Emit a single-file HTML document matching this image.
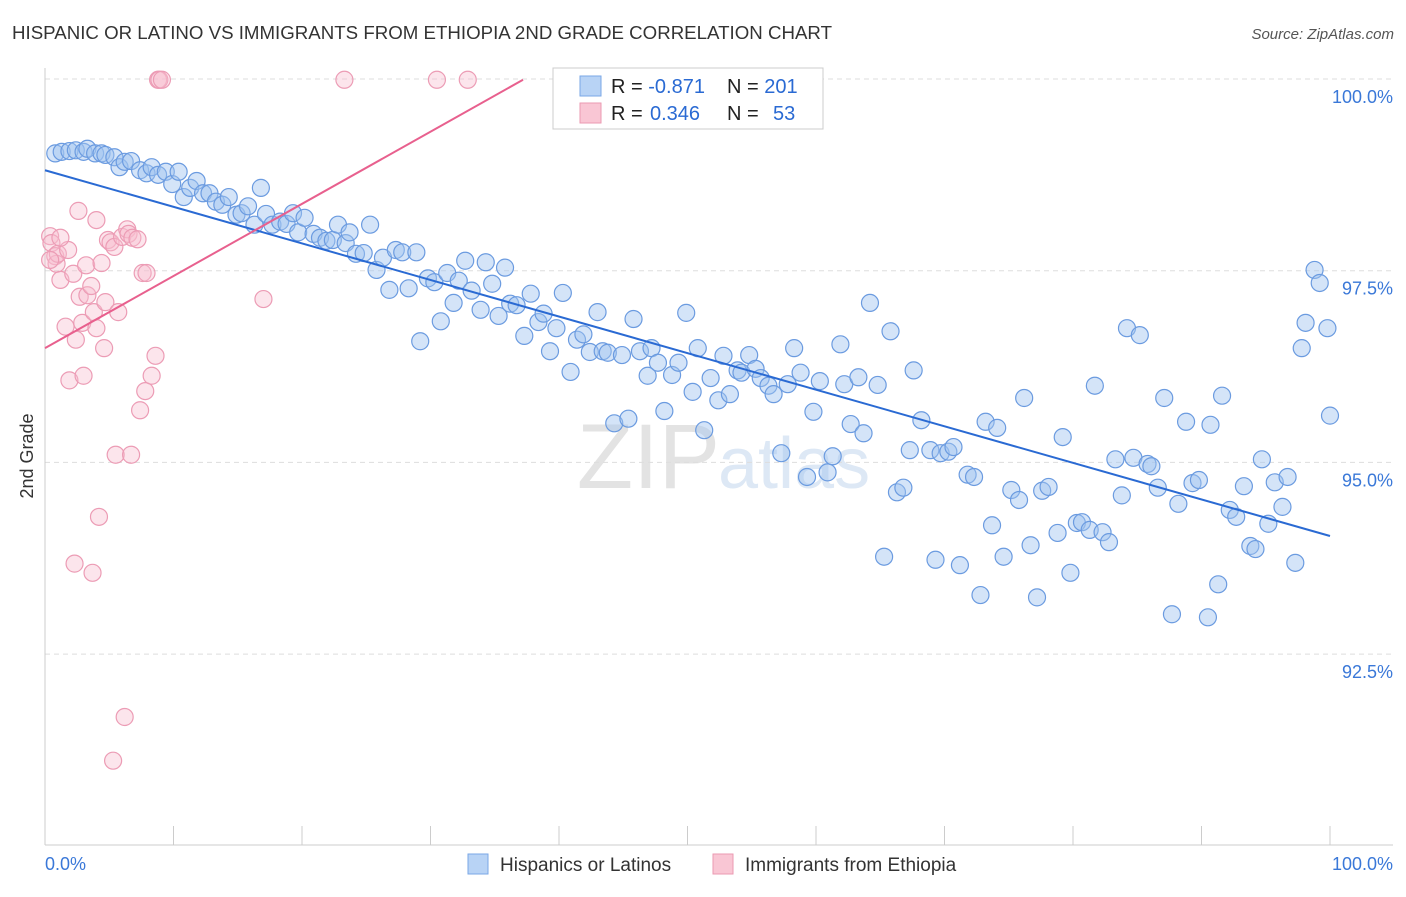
<!DOCTYPE html>
<html><head><meta charset="utf-8">
<style>
body{margin:0;background:#fff;font-family:"Liberation Sans",sans-serif;}
svg text{font-family:"Liberation Sans",sans-serif;}
</style></head>
<body>
<svg id="chart" width="1406" height="892">
<text x="12" y="39" font-size="18" fill="#333" textLength="820" lengthAdjust="spacingAndGlyphs">HISPANIC OR LATINO VS IMMIGRANTS FROM ETHIOPIA 2ND GRADE CORRELATION CHART</text>
<text x="1394" y="39" font-size="15" fill="#555" text-anchor="end" font-style="italic">Source: ZipAtlas.com</text>
<text x="720" y="488" font-size="92" fill="#e3e3e3" text-anchor="end" font-family="Liberation Serif">ZIP</text>
<text x="718" y="488" font-size="72" fill="#dde8f5">atlas</text>
<g id="grid"></g>
<g id="axes"></g>
<g id="marks"></g>
<text transform="translate(33,456) rotate(-90)" font-size="18" fill="#333" text-anchor="middle">2nd Grade</text>
<g>
<rect x="553" y="68" width="270" height="61" fill="#fff" stroke="#ccc"/>
<rect x="580" y="76" width="21" height="20" fill="#b8d3f5" stroke="#7aa7e6"/>
<rect x="580" y="103" width="21" height="20" fill="#f9c6d4" stroke="#eb9ab2"/>
<text x="611" y="93" font-size="20" fill="#222">R = <tspan fill="#2a6ad3">-0.871</tspan><tspan x="727">N = </tspan><tspan fill="#2a6ad3">201</tspan></text>
<text x="611" y="120" font-size="20" fill="#222">R = <tspan x="650" fill="#2a6ad3">0.346</tspan><tspan x="727">N = </tspan><tspan x="773" fill="#2a6ad3">53</tspan></text>
</g>
<g>
<rect x="468" y="854" width="20" height="20" fill="#b8d3f5" stroke="#7aa7e6"/>
<text x="500" y="871" font-size="19" fill="#333">Hispanics or Latinos</text>
<rect x="713" y="854" width="20" height="20" fill="#f9c6d4" stroke="#eb9ab2"/>
<text x="745" y="871" font-size="19" fill="#333">Immigrants from Ethiopia</text>
</g>
</svg>
<script>
const blueX=[0.8,1.3,1.9,2.4,3.0,3.3,3.9,4.4,4.7,5.4,5.8,6.2,6.7,7.4,7.9,8.3,8.8,9.4,9.9,10.4,10.8,11.3,11.8,12.3,12.8,13.3,13.8,14.3,14.9,15.3,15.8,16.3,16.8,17.2,17.7,18.3,18.8,19.3,19.7,20.2,20.9,21.4,21.9,22.4,22.8,23.4,23.7,24.2,24.8,25.3,25.8,26.3,26.8,27.3,27.8,28.3,28.9,29.2,29.8,30.3,30.8,31.3,31.8,32.2,32.7,33.2,33.9,34.3,34.8,35.3,35.8,36.2,36.7,37.3,37.8,38.4,38.8,39.3,39.8,40.3,40.9,41.4,41.9,42.4,43.0,43.4,43.8,44.3,44.9,45.4,45.8,46.3,46.9,47.2,47.7,48.2,48.8,49.3,49.9,50.4,50.8,51.3,51.8,52.4,52.8,53.3,53.9,54.2,54.8,55.3,55.7,56.3,56.7,57.3,57.8,58.3,58.8,59.3,59.8,60.3,60.9,61.3,61.9,62.2,62.7,63.3,63.7,64.2,64.8,65.3,65.8,66.3,66.8,67.3,67.6,68.2,68.9,69.3,69.7,70.3,70.7,71.2,71.8,72.3,72.8,73.2,73.7,74.1,74.6,75.2,75.8,76.2,76.7,77.2,77.6,78.1,78.8,79.2,79.8,80.3,80.7,81.3,81.7,82.3,82.8,83.3,83.8,84.2,84.7,85.2,85.8,86.1,86.6,87.1,87.7,88.2,88.8,89.3,89.8,90.5,90.7,91.3,91.6,92.2,92.7,93.3,93.8,94.2,94.7,95.2,95.7,96.3,96.7,97.3,97.8,98.1,98.8,99.2,99.8,100];
const blueY=[99.03,99.05,99.06,99.07,99.05,99.09,99.03,99.03,99.01,98.98,98.85,98.92,98.93,98.81,98.77,98.85,98.75,98.79,98.63,98.79,98.46,98.58,98.67,98.51,98.51,98.40,98.36,98.46,98.23,98.25,98.34,98.10,98.58,98.24,98.10,98.14,98.11,98.25,98.00,98.19,97.98,97.93,97.89,97.90,98.10,97.86,98.00,97.72,97.73,98.10,97.51,97.67,97.25,97.77,97.74,97.27,97.74,96.58,97.40,97.35,96.84,97.47,97.08,97.37,97.63,97.24,96.99,97.61,97.33,96.91,97.54,97.07,97.05,96.65,97.20,96.83,96.94,96.45,96.75,97.21,96.18,96.60,96.67,96.44,96.96,96.45,96.43,95.51,96.40,95.57,96.87,96.45,96.13,96.49,96.30,95.67,96.14,96.30,96.95,95.92,96.49,95.42,96.10,95.81,96.39,95.89,96.20,96.17,96.40,96.22,96.10,96.00,95.89,95.12,96.02,96.49,96.17,94.81,95.66,96.06,94.87,95.08,96.54,96.02,95.50,96.11,95.38,97.08,96.01,93.77,96.71,94.61,94.67,95.16,96.20,95.55,95.16,93.73,95.12,95.14,95.20,93.66,94.84,94.81,93.27,95.53,94.18,95.45,93.77,94.64,94.51,95.84,93.92,93.24,94.63,94.68,94.08,95.33,93.56,94.21,94.22,94.12,96.00,94.09,93.96,95.04,94.57,96.75,95.06,96.66,94.98,94.95,94.67,95.84,93.02,94.46,95.53,94.73,94.77,92.98,95.49,93.41,95.87,94.38,94.29,94.69,93.91,93.87,95.04,94.20,94.74,94.42,94.81,93.69,96.49,96.82,97.51,97.34,96.75,95.61];
const pinkX=[0.4,0.5,0.8,0.9,1.0,1.2,1.6,1.8,1.9,2.2,2.4,2.6,2.7,2.9,3.0,3.2,3.3,3.6,3.8,4.0,4.0,4.2,4.4,4.6,4.7,4.9,5.1,5.4,5.5,5.7,6.0,6.2,6.4,6.5,6.8,7.2,7.4,7.6,7.8,7.9,8.3,8.6,8.8,8.9,9.1,17.0,23.3,30.5,32.9,2.3,3.7,5.3,6.7,0.4,1.2];
const pinkY=[97.95,97.86,97.69,97.59,97.72,97.38,96.77,97.77,96.07,97.46,96.60,98.28,97.16,96.82,96.13,97.57,97.18,97.30,96.96,98.16,96.75,94.29,97.60,96.49,97.09,97.90,97.87,97.81,95.10,96.96,97.94,91.68,98.04,97.98,97.93,97.91,95.68,97.47,95.93,97.47,96.13,96.39,99.99,99.99,99.99,97.13,99.99,99.99,99.99,93.68,93.56,91.11,95.10,97.64,97.93];
const yTicks=[100,97.5,95,92.5];
const yTickLabels=["100.0%","97.5%","95.0%","92.5%"];
const xTickVals=[0,10,20,30,40,50,60,70,80,90,100];
const blueTrend=[98.81,94.04];
const pinkTrend=[96.49,99.99];
const pinkTrendEnd=37.2;

const NS="http://www.w3.org/2000/svg";
const sx=v=>45+v*12.85;
const sy=v=>79+(100-v)*76.68;
function mk(parent,tag,attrs){const e=document.createElementNS(NS,tag);for(const k in attrs)e.setAttribute(k,attrs[k]);document.getElementById(parent).appendChild(e);return e;}

yTicks.forEach((t,i)=>{
  const l=mk('grid','line',{x1:45,x2:1393,y1:sy(t),y2:sy(t),stroke:'#ddd','stroke-dasharray':'5,4'});
  
  
  const tx=mk('grid','text',{x:1393,y:sy(t)+24,'text-anchor':'end','font-size':18,fill:'#3a78d8'});
  tx.textContent=yTickLabels[i];
  
  
});
const ax=mk('axes','line',{x1:45,x2:1393,y1:845,y2:845,stroke:'#ccc'});


const ay=mk('axes','line',{x1:45,x2:45,y1:68,y2:845,stroke:'#ccc'});


xTickVals.forEach(t=>{
  const l=mk('axes','line',{x1:sx(t),x2:sx(t),y1:826,y2:845,stroke:'#ccc'});
  
  
});
const xl0=mk('axes','text',{x:45,y:870,'font-size':18,fill:'#3a78d8'});xl0.textContent='0.0%';


const xl1=mk('axes','text',{x:1393,y:870,'font-size':18,fill:'#3a78d8','text-anchor':'end'});xl1.textContent='100.0%';



blueX.forEach((x,i)=>{
  const c=mk('marks','circle',{cx:sx(x),cy:sy(blueY[i]),r:8.5,fill:'rgba(160,196,240,0.45)',stroke:'#6b9be0','stroke-width':1.2});
  
  
});
pinkX.forEach((x,i)=>{
  const c=mk('marks','circle',{cx:sx(x),cy:sy(pinkY[i]),r:8.5,fill:'rgba(248,190,208,0.4)',stroke:'#ec9cb5','stroke-width':1.2});
  
  
});
const bl=mk('marks','line',{x1:sx(0),y1:sy(blueTrend[0]),x2:sx(100),y2:sy(blueTrend[1]),stroke:'#2a6ad3','stroke-width':2});


const pl=mk('marks','line',{x1:sx(0),y1:sy(pinkTrend[0]),x2:sx(pinkTrendEnd),y2:sy(pinkTrend[1]),stroke:'#e8608e','stroke-width':2});


</script>
</body></html>
